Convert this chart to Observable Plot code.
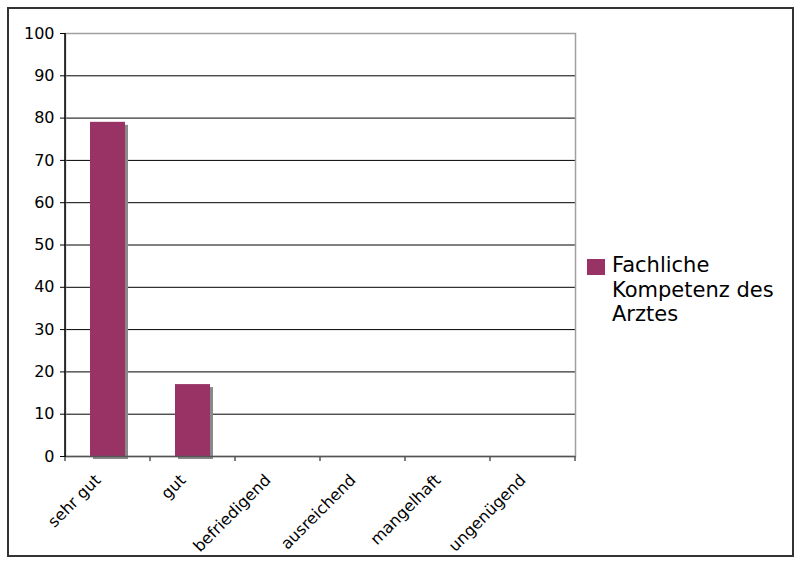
<!DOCTYPE html>
<html>
<head>
<meta charset="utf-8">
<script src="https://cdn.jsdelivr.net/npm/d3@7"></script>
<script src="https://cdn.jsdelivr.net/npm/@observablehq/plot@0.6"></script>
<style>
  html, body { margin: 0; padding: 0; background: #fff; }
  #wrap { position: relative; width: 800px; height: 563px; overflow: hidden; font-family: "DejaVu Sans", Verdana, sans-serif; }
  #border { position: absolute; left: 7px; top: 7px; width: 783px; height: 546px; border: 2px solid #333; box-sizing: content-box; pointer-events: none; }
  #legend { position: absolute; left: 587px; top: 253px; display: flex; align-items: flex-start; font-size: 21px; line-height: 24.5px; color: #000; }
  #legend .sw { width: 18px; height: 16px; margin-top: 6px; margin-right: 7px; flex: none; }
  #legend .lbl { width: 190px; }
  #chart svg { position: absolute; left: 0; top: 0; }
  #chart svg text { font-family: "DejaVu Sans", Verdana, sans-serif !important; font-size: 16px !important; fill: #000; }
</style>
</head>
<body>
<div id="wrap">
  <div id="chart"></div>
  <div id="legend"></div>
  <div id="border"></div>
</div>
<script>
const categories = ["sehr gut", "gut", "befriedigend", "ausreichend", "mangelhaft", "ungenügend"];
const values = [79, 17, 0, 0, 0, 0];
const seriesName = "Fachliche Kompetenz des Arztes";
const yTicks = [0, 10, 20, 30, 40, 50, 60, 70, 80, 90, 100];
const barColor = "#993366";
const shadowColor = "#8a8a8a";

const data = categories.map((c, i) => ({category: c, value: values[i]}));

const plot = Plot.plot({
  width: 800,
  height: 563,
  marginLeft: 65,
  marginRight: 225,
  marginTop: 33,
  marginBottom: 107,
  style: {fontFamily: "DejaVu Sans", fontSize: "16px", color: "#000", background: "transparent"},
  x: {domain: categories, padding: 0, label: null},
  y: {domain: [0, 100], label: null},
  marks: [
    Plot.gridY(yTicks.filter(d => d > 0 && d < 100), {stroke: "#000", strokeOpacity: 1}),
    Plot.frame({stroke: "#a0a0a0", strokeWidth: 1.5}),
    Plot.barY(data, {x: "category", y: "value", fill: shadowColor, insetLeft: 25, insetRight: 25, dx: 3, dy: 3}),
    Plot.barY(data, {x: "category", y: "value", fill: barColor, insetLeft: 25, insetRight: 25}),
    Plot.ruleY([0], {stroke: "#555", strokeWidth: 1.5}),
    Plot.axisY({ticks: yTicks, tickSize: 5, tickPadding: 6, label: null, stroke: "#000"}),
    Plot.axisX({tickSize: 0, tickPadding: 14, tickRotate: -45, label: null, dx: -10, dy: 7})
  ]
});

// band-boundary tick marks and left axis line, positioned through the plot's own scales
const xs = plot.scale("x");
const ys = plot.scale("y");
const svg = d3.select(plot);
const y0 = ys.apply(0), y100 = ys.apply(100);
const bounds = categories.map(c => xs.apply(c)).concat([xs.apply(categories[categories.length - 1]) + xs.bandwidth]);
const g = svg.append("g").attr("stroke", "#555").attr("stroke-width", 1.5);
g.selectAll("line").data(bounds).join("line")
  .attr("x1", d => d).attr("x2", d => d)
  .attr("y1", y0).attr("y2", y0 + 5);
svg.append("line")
  .attr("x1", bounds[0]).attr("x2", bounds[0])
  .attr("y1", y100).attr("y2", y0 + 1)
  .attr("stroke", "#000").attr("stroke-width", 1.5);

document.getElementById("chart").append(plot);

const legend = document.getElementById("legend");
legend.innerHTML = `<div class="sw" style="background:${barColor}"></div><div class="lbl">${seriesName}</div>`;
</script>
</body>
</html>
